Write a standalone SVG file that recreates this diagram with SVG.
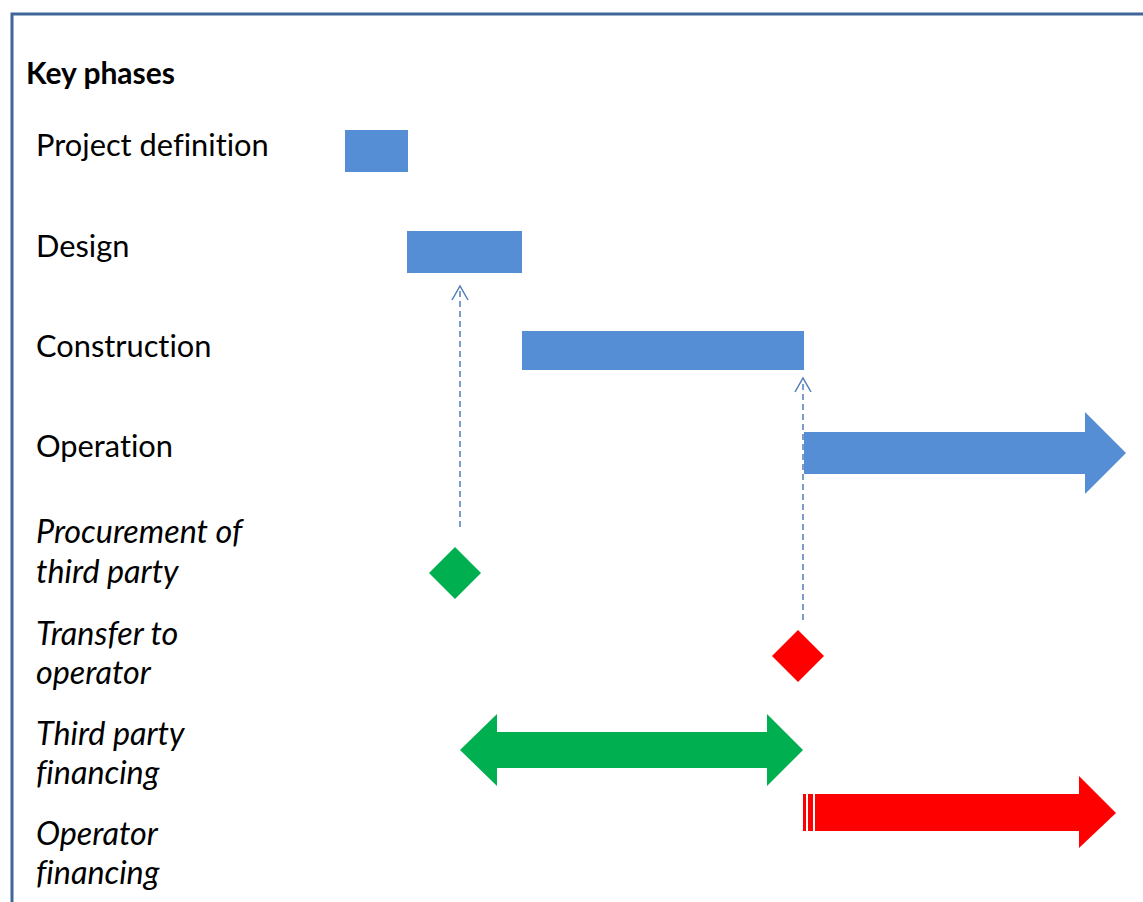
<svg xmlns="http://www.w3.org/2000/svg" width="1143" height="902" viewBox="0 0 1143 902">
<style>
.lbl{font-family:Lato,"Open Sans","Liberation Sans",sans-serif;font-size:30.8px;fill:#000;font-variant-ligatures:none}
.it{font-style:italic;font-size:32.3px}
.bold{font-weight:bold;font-size:30px}
.blue{fill:#558ED5}
.dash{stroke:#4F7DB8;stroke-width:1.5;stroke-dasharray:6 4;fill:none}
.head{stroke:#4F7DB8;stroke-width:1.5;fill:none}
</style>
<rect width="1143" height="902" fill="#fff"/>
<path d="M12 902 V14 H1143" fill="none" stroke="#41679A" stroke-width="3"/>
<g id="labels">
<text class="lbl bold" x="26" y="84">Key phases</text>
<text class="lbl" x="36" y="156">Project definition</text>
<text class="lbl" x="36" y="257">Design</text>
<text class="lbl" x="36" y="357">Construction</text>
<text class="lbl" x="36" y="457">Operation</text>
<text class="lbl it" x="36" y="543">Procurement of</text>
<text class="lbl it" x="36" y="583">third party</text>
<text class="lbl it" x="36" y="645">Transfer to</text>
<text class="lbl it" x="36" y="684">operator</text>
<text class="lbl it" x="36" y="745">Third party</text>
<text class="lbl it" x="36" y="784">financing</text>
<text class="lbl it" x="36" y="845">Operator</text>
<text class="lbl it" x="36" y="884">financing</text>
</g>
<g id="project-definition"><rect class="blue" x="345" y="130" width="63" height="42"/></g>
<g id="design"><rect class="blue" x="407" y="231" width="115" height="42"/></g>
<g id="construction"><rect class="blue" x="522" y="331" width="282" height="39"/></g>
<g id="operation"><polygon class="blue" points="804,432 1085,432 1085,412 1126,453 1085,494 1085,474 804,474"/></g>
<g id="procurement"><polygon fill="#00B050" points="455,547 481,573 455,599 429,573"/></g>
<g id="transfer"><polygon fill="#FF0000" points="798,630 824,656 798,682 772,656"/></g>
<g id="third-party-financing"><polygon fill="#00B050" points="460,750 497,714 497,732 767,732 767,714 803,750 767,786 767,768 497,768 497,786"/></g>
<g id="operator-financing">
<rect fill="#FF0000" x="803" y="794" width="3" height="37"/>
<rect fill="#FF0000" x="808" y="794" width="5" height="37"/>
<polygon fill="#FF0000" points="815,794 1079,794 1079,776 1116,813 1079,848 1079,831 815,831"/>
</g>
<g id="connectors">
<line class="dash" x1="460" y1="527" x2="460" y2="288"/>
<polyline class="head" points="452,300 460,286 468,300"/>
<line class="dash" x1="803" y1="620" x2="803" y2="380"/>
<polyline class="head" points="795,392 803,378 811,392"/>
</g>
</svg>
